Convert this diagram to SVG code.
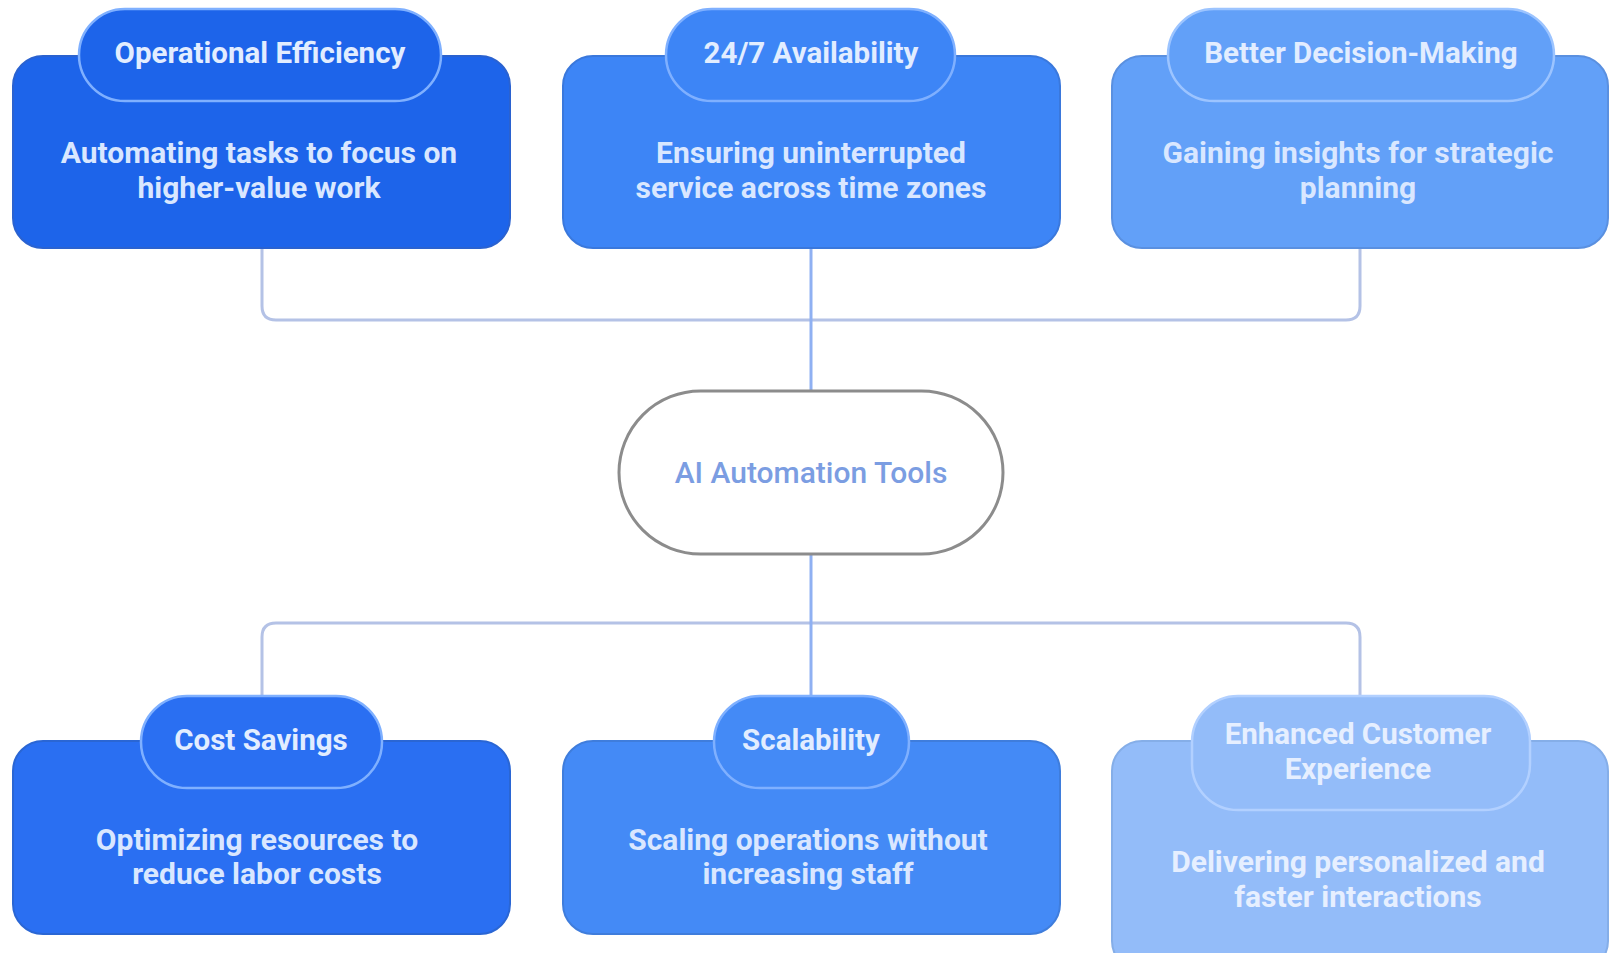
<svg xmlns="http://www.w3.org/2000/svg" width="1610" height="953" viewBox="0 0 1610 953">
<style>
  .box{stroke-width:2}
  .pill{stroke:#7fb0ff;stroke-width:2.5}
  .title{font-family:Roboto,"Liberation Sans",sans-serif;font-weight:700;font-size:29.5px;fill:#e2edff;text-anchor:middle;dominant-baseline:central}
  .desc{font-family:Roboto,"Liberation Sans",sans-serif;font-weight:700;font-size:30px;fill:#d9e7ff;text-anchor:middle;dominant-baseline:central}
  .conn{fill:none;stroke:#b4c2e6;stroke-width:3}
  .stem{fill:none;stroke:#8fb0f2;stroke-width:3}
</style>
<rect width="1610" height="953" fill="#ffffff"/>
<g id="connectors">
  <path class="conn" d="M262 248 V306 Q262 320 276 320 H1346 Q1360 320 1360 306 V248"/>
  <path class="stem" d="M811 248 V390"/>
  <path class="conn" d="M262 695 V637 Q262 623 276 623 H1346 Q1360 623 1360 637 V695"/>
  <path class="stem" d="M811 554 V695"/>
</g>
<g id="center">
  <rect x="619" y="391" width="384" height="163" rx="81.5" fill="#ffffff" stroke="#8c8c8c" stroke-width="3"/>
  <text x="811" y="472" font-family="Roboto,'Liberation Sans',sans-serif" font-weight="500" font-size="30" fill="#7b9de2" text-anchor="middle" dominant-baseline="central">AI Automation Tools</text>
</g>
<g id="operational-efficiency">
  <rect class="box" x="13" y="56" width="497" height="192" rx="30" fill="#1d64ea" stroke="#2a62d0"/>
  <rect class="pill" x="79" y="9" width="362" height="92" rx="46" fill="#1d64ea"/>
  <text class="title" x="260" y="53">Operational Efficiency</text>
  <text class="desc" x="259" y="152">Automating tasks to focus on</text>
  <text class="desc" x="259" y="187">higher-value work</text>
</g>
<g id="availability">
  <rect class="box" x="563" y="56" width="497" height="192" rx="30" fill="#3d85f6" stroke="#3a78dc"/>
  <rect class="pill" x="666" y="9" width="289" height="92" rx="46" fill="#3d85f6"/>
  <text class="title" x="811" y="53">24/7 Availability</text>
  <text class="desc" x="811" y="152">Ensuring uninterrupted</text>
  <text class="desc" x="811" y="187">service across time zones</text>
</g>
<g id="decision-making">
  <rect class="box" x="1112" y="56" width="496" height="192" rx="30" fill="#62a0f8" stroke="#5a90e0"/>
  <rect class="pill" x="1168" y="9" width="386" height="92" rx="46" fill="#62a0f8" style="stroke:#9cc4ff"/>
  <text class="title" x="1361" y="53">Better Decision-Making</text>
  <text class="desc" x="1358" y="152">Gaining insights for strategic</text>
  <text class="desc" x="1358" y="187">planning</text>
</g>
<g id="cost-savings">
  <rect class="box" x="13" y="741" width="497" height="193" rx="30" fill="#2a6ff2" stroke="#2a66d4"/>
  <rect class="pill" x="141" y="696" width="241" height="92" rx="46" fill="#2a6ff2"/>
  <text class="title" x="261" y="740">Cost Savings</text>
  <text class="desc" x="257" y="839">Optimizing resources to</text>
  <text class="desc" x="257" y="873">reduce labor costs</text>
</g>
<g id="scalability">
  <rect class="box" x="563" y="741" width="497" height="193" rx="30" fill="#448af6" stroke="#3f7ddc"/>
  <rect class="pill" x="714" y="696" width="195" height="92" rx="46" fill="#448af6"/>
  <text class="title" x="811" y="740">Scalability</text>
  <text class="desc" x="808" y="839">Scaling operations without</text>
  <text class="desc" x="808" y="873">increasing staff</text>
</g>
<g id="customer-experience">
  <rect class="box" x="1112" y="741" width="496" height="230" rx="30" fill="#93bcf9" stroke="#85aee8"/>
  <rect class="pill" x="1192" y="696" width="338" height="114" rx="46" fill="#93bcf9" style="stroke:#b2d0ff"/>
  <text class="title" x="1358" y="734" style="fill:#e6efff">Enhanced Customer</text>
  <text class="title" x="1358" y="769" style="fill:#e6efff">Experience</text>
  <text class="desc" x="1358" y="861" style="fill:#e6efff">Delivering personalized and</text>
  <text class="desc" x="1358" y="896" style="fill:#e6efff">faster interactions</text>
</g>
</svg>
